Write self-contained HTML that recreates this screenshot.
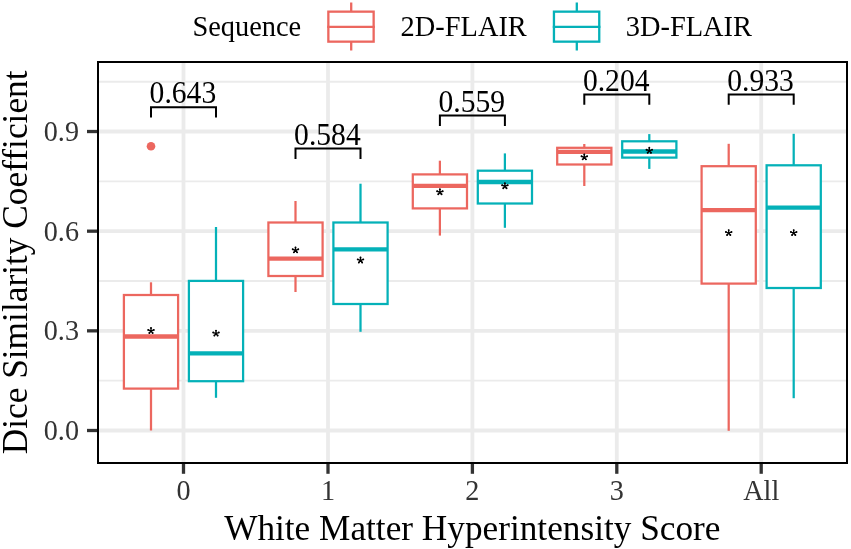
<!DOCTYPE html>
<html><head><meta charset="utf-8"><style>html,body{margin:0;padding:0;background:#fff;width:851px;height:549px;overflow:hidden}text{font-family:"Liberation Serif",serif}</style></head><body>
<svg width="851" height="549" viewBox="0 0 851 549" style="display:block;will-change:transform">
<rect width="851" height="549" fill="#fff"/>
<line x1="97" x2="848" y1="380.67" y2="380.67" stroke="#EBEBEB" stroke-width="1.9"/>
<line x1="97" x2="848" y1="281.01" y2="281.01" stroke="#EBEBEB" stroke-width="1.9"/>
<line x1="97" x2="848" y1="181.35" y2="181.35" stroke="#EBEBEB" stroke-width="1.9"/>
<line x1="97" x2="848" y1="81.69" y2="81.69" stroke="#EBEBEB" stroke-width="1.9"/>
<line x1="97" x2="848" y1="430.50" y2="430.50" stroke="#EBEBEB" stroke-width="3.8"/>
<line x1="97" x2="848" y1="330.84" y2="330.84" stroke="#EBEBEB" stroke-width="3.8"/>
<line x1="97" x2="848" y1="231.18" y2="231.18" stroke="#EBEBEB" stroke-width="3.8"/>
<line x1="97" x2="848" y1="131.52" y2="131.52" stroke="#EBEBEB" stroke-width="3.8"/>
<line x1="183.5" x2="183.5" y1="61" y2="464" stroke="#EBEBEB" stroke-width="3.8"/>
<line x1="328.0" x2="328.0" y1="61" y2="464" stroke="#EBEBEB" stroke-width="3.8"/>
<line x1="472.4" x2="472.4" y1="61" y2="464" stroke="#EBEBEB" stroke-width="3.8"/>
<line x1="616.8" x2="616.8" y1="61" y2="464" stroke="#EBEBEB" stroke-width="3.8"/>
<line x1="761.2" x2="761.2" y1="61" y2="464" stroke="#EBEBEB" stroke-width="3.8"/>
<line x1="151.00" x2="151.00" y1="282.3" y2="295" stroke="#EC675F" stroke-width="2.25"/>
<line x1="151.00" x2="151.00" y1="388.6" y2="430.5" stroke="#EC675F" stroke-width="2.25"/>
<rect x="123.90" y="295" width="54.20" height="93.60" fill="#fff" stroke="#EC675F" stroke-width="2.25"/>
<line x1="123.90" x2="178.10" y1="336.5" y2="336.5" stroke="#EC675F" stroke-width="4.3"/>
<g fill="#000"><path d="M151.00 331.00L151.00 328.00M151.00 331.00L153.78 329.88M151.00 331.00L152.64 332.95M151.00 331.00L149.36 332.95M151.00 331.00L148.22 329.88" stroke="#000" stroke-width="1.3" stroke-linecap="round" fill="none"/><circle cx="151.00" cy="328.00" r="0.95"/><circle cx="153.78" cy="329.88" r="0.95"/><circle cx="152.64" cy="332.95" r="0.95"/><circle cx="149.36" cy="332.95" r="0.95"/><circle cx="148.22" cy="329.88" r="0.95"/><circle cx="151.00" cy="331.00" r="1.1"/></g>
<line x1="216.00" x2="216.00" y1="227" y2="280.9" stroke="#04B1B8" stroke-width="2.25"/>
<line x1="216.00" x2="216.00" y1="381.2" y2="397.8" stroke="#04B1B8" stroke-width="2.25"/>
<rect x="188.90" y="280.9" width="54.20" height="100.30" fill="#fff" stroke="#04B1B8" stroke-width="2.25"/>
<line x1="188.90" x2="243.10" y1="353.3" y2="353.3" stroke="#04B1B8" stroke-width="4.3"/>
<g fill="#000"><path d="M216.00 333.60L216.00 330.60M216.00 333.60L218.78 332.48M216.00 333.60L217.64 335.55M216.00 333.60L214.36 335.55M216.00 333.60L213.22 332.48" stroke="#000" stroke-width="1.3" stroke-linecap="round" fill="none"/><circle cx="216.00" cy="330.60" r="0.95"/><circle cx="218.78" cy="332.48" r="0.95"/><circle cx="217.64" cy="335.55" r="0.95"/><circle cx="214.36" cy="335.55" r="0.95"/><circle cx="213.22" cy="332.48" r="0.95"/><circle cx="216.00" cy="333.60" r="1.1"/></g>
<line x1="295.50" x2="295.50" y1="201" y2="222.5" stroke="#EC675F" stroke-width="2.25"/>
<line x1="295.50" x2="295.50" y1="276" y2="292" stroke="#EC675F" stroke-width="2.25"/>
<rect x="268.40" y="222.5" width="54.20" height="53.50" fill="#fff" stroke="#EC675F" stroke-width="2.25"/>
<line x1="268.40" x2="322.60" y1="258.7" y2="258.7" stroke="#EC675F" stroke-width="4.3"/>
<g fill="#000"><path d="M295.50 250.40L295.50 247.40M295.50 250.40L298.28 249.28M295.50 250.40L297.14 252.35M295.50 250.40L293.86 252.35M295.50 250.40L292.72 249.28" stroke="#000" stroke-width="1.3" stroke-linecap="round" fill="none"/><circle cx="295.50" cy="247.40" r="0.95"/><circle cx="298.28" cy="249.28" r="0.95"/><circle cx="297.14" cy="252.35" r="0.95"/><circle cx="293.86" cy="252.35" r="0.95"/><circle cx="292.72" cy="249.28" r="0.95"/><circle cx="295.50" cy="250.40" r="1.1"/></g>
<line x1="360.50" x2="360.50" y1="183.7" y2="222.5" stroke="#04B1B8" stroke-width="2.25"/>
<line x1="360.50" x2="360.50" y1="304" y2="331.8" stroke="#04B1B8" stroke-width="2.25"/>
<rect x="333.40" y="222.5" width="54.20" height="81.50" fill="#fff" stroke="#04B1B8" stroke-width="2.25"/>
<line x1="333.40" x2="387.60" y1="249.4" y2="249.4" stroke="#04B1B8" stroke-width="4.3"/>
<g fill="#000"><path d="M360.50 260.50L360.50 257.50M360.50 260.50L363.28 259.38M360.50 260.50L362.14 262.45M360.50 260.50L358.86 262.45M360.50 260.50L357.72 259.38" stroke="#000" stroke-width="1.3" stroke-linecap="round" fill="none"/><circle cx="360.50" cy="257.50" r="0.95"/><circle cx="363.28" cy="259.38" r="0.95"/><circle cx="362.14" cy="262.45" r="0.95"/><circle cx="358.86" cy="262.45" r="0.95"/><circle cx="357.72" cy="259.38" r="0.95"/><circle cx="360.50" cy="260.50" r="1.1"/></g>
<line x1="439.90" x2="439.90" y1="160.7" y2="174.4" stroke="#EC675F" stroke-width="2.25"/>
<line x1="439.90" x2="439.90" y1="208.4" y2="235.6" stroke="#EC675F" stroke-width="2.25"/>
<rect x="412.80" y="174.4" width="54.20" height="34.00" fill="#fff" stroke="#EC675F" stroke-width="2.25"/>
<line x1="412.80" x2="467.00" y1="185.9" y2="185.9" stroke="#EC675F" stroke-width="4.3"/>
<g fill="#000"><path d="M439.90 192.30L439.90 189.30M439.90 192.30L442.68 191.18M439.90 192.30L441.54 194.25M439.90 192.30L438.26 194.25M439.90 192.30L437.12 191.18" stroke="#000" stroke-width="1.3" stroke-linecap="round" fill="none"/><circle cx="439.90" cy="189.30" r="0.95"/><circle cx="442.68" cy="191.18" r="0.95"/><circle cx="441.54" cy="194.25" r="0.95"/><circle cx="438.26" cy="194.25" r="0.95"/><circle cx="437.12" cy="191.18" r="0.95"/><circle cx="439.90" cy="192.30" r="1.1"/></g>
<line x1="504.90" x2="504.90" y1="153.4" y2="170.7" stroke="#04B1B8" stroke-width="2.25"/>
<line x1="504.90" x2="504.90" y1="203.5" y2="227.8" stroke="#04B1B8" stroke-width="2.25"/>
<rect x="477.80" y="170.7" width="54.20" height="32.80" fill="#fff" stroke="#04B1B8" stroke-width="2.25"/>
<line x1="477.80" x2="532.00" y1="182.0" y2="182.0" stroke="#04B1B8" stroke-width="4.3"/>
<g fill="#000"><path d="M504.90 186.30L504.90 183.30M504.90 186.30L507.68 185.18M504.90 186.30L506.54 188.25M504.90 186.30L503.26 188.25M504.90 186.30L502.12 185.18" stroke="#000" stroke-width="1.3" stroke-linecap="round" fill="none"/><circle cx="504.90" cy="183.30" r="0.95"/><circle cx="507.68" cy="185.18" r="0.95"/><circle cx="506.54" cy="188.25" r="0.95"/><circle cx="503.26" cy="188.25" r="0.95"/><circle cx="502.12" cy="185.18" r="0.95"/><circle cx="504.90" cy="186.30" r="1.1"/></g>
<line x1="584.30" x2="584.30" y1="144" y2="147.8" stroke="#EC675F" stroke-width="2.25"/>
<line x1="584.30" x2="584.30" y1="164.5" y2="186" stroke="#EC675F" stroke-width="2.25"/>
<rect x="557.20" y="147.8" width="54.20" height="16.70" fill="#fff" stroke="#EC675F" stroke-width="2.25"/>
<line x1="557.20" x2="611.40" y1="151.9" y2="151.9" stroke="#EC675F" stroke-width="4.3"/>
<g fill="#000"><path d="M584.30 157.40L584.30 154.40M584.30 157.40L587.08 156.28M584.30 157.40L585.94 159.35M584.30 157.40L582.66 159.35M584.30 157.40L581.52 156.28" stroke="#000" stroke-width="1.3" stroke-linecap="round" fill="none"/><circle cx="584.30" cy="154.40" r="0.95"/><circle cx="587.08" cy="156.28" r="0.95"/><circle cx="585.94" cy="159.35" r="0.95"/><circle cx="582.66" cy="159.35" r="0.95"/><circle cx="581.52" cy="156.28" r="0.95"/><circle cx="584.30" cy="157.40" r="1.1"/></g>
<line x1="649.30" x2="649.30" y1="134.1" y2="141.3" stroke="#04B1B8" stroke-width="2.25"/>
<line x1="649.30" x2="649.30" y1="157.6" y2="168.9" stroke="#04B1B8" stroke-width="2.25"/>
<rect x="622.20" y="141.3" width="54.20" height="16.30" fill="#fff" stroke="#04B1B8" stroke-width="2.25"/>
<line x1="622.20" x2="676.40" y1="151.5" y2="151.5" stroke="#04B1B8" stroke-width="4.3"/>
<g fill="#000"><path d="M649.30 150.80L649.30 147.80M649.30 150.80L652.08 149.68M649.30 150.80L650.94 152.75M649.30 150.80L647.66 152.75M649.30 150.80L646.52 149.68" stroke="#000" stroke-width="1.3" stroke-linecap="round" fill="none"/><circle cx="649.30" cy="147.80" r="0.95"/><circle cx="652.08" cy="149.68" r="0.95"/><circle cx="650.94" cy="152.75" r="0.95"/><circle cx="647.66" cy="152.75" r="0.95"/><circle cx="646.52" cy="149.68" r="0.95"/><circle cx="649.30" cy="150.80" r="1.1"/></g>
<line x1="728.70" x2="728.70" y1="143.8" y2="166.2" stroke="#EC675F" stroke-width="2.25"/>
<line x1="728.70" x2="728.70" y1="283.6" y2="430.8" stroke="#EC675F" stroke-width="2.25"/>
<rect x="701.60" y="166.2" width="54.20" height="117.40" fill="#fff" stroke="#EC675F" stroke-width="2.25"/>
<line x1="701.60" x2="755.80" y1="210.2" y2="210.2" stroke="#EC675F" stroke-width="4.3"/>
<g fill="#000"><path d="M728.70 233.10L728.70 230.10M728.70 233.10L731.48 231.98M728.70 233.10L730.34 235.05M728.70 233.10L727.06 235.05M728.70 233.10L725.92 231.98" stroke="#000" stroke-width="1.3" stroke-linecap="round" fill="none"/><circle cx="728.70" cy="230.10" r="0.95"/><circle cx="731.48" cy="231.98" r="0.95"/><circle cx="730.34" cy="235.05" r="0.95"/><circle cx="727.06" cy="235.05" r="0.95"/><circle cx="725.92" cy="231.98" r="0.95"/><circle cx="728.70" cy="233.10" r="1.1"/></g>
<line x1="793.70" x2="793.70" y1="133.8" y2="165.3" stroke="#04B1B8" stroke-width="2.25"/>
<line x1="793.70" x2="793.70" y1="288" y2="398.2" stroke="#04B1B8" stroke-width="2.25"/>
<rect x="766.60" y="165.3" width="54.20" height="122.70" fill="#fff" stroke="#04B1B8" stroke-width="2.25"/>
<line x1="766.60" x2="820.80" y1="207.7" y2="207.7" stroke="#04B1B8" stroke-width="4.3"/>
<g fill="#000"><path d="M793.70 233.10L793.70 230.10M793.70 233.10L796.48 231.98M793.70 233.10L795.34 235.05M793.70 233.10L792.06 235.05M793.70 233.10L790.92 231.98" stroke="#000" stroke-width="1.3" stroke-linecap="round" fill="none"/><circle cx="793.70" cy="230.10" r="0.95"/><circle cx="796.48" cy="231.98" r="0.95"/><circle cx="795.34" cy="235.05" r="0.95"/><circle cx="792.06" cy="235.05" r="0.95"/><circle cx="790.92" cy="231.98" r="0.95"/><circle cx="793.70" cy="233.10" r="1.1"/></g>
<circle cx="151" cy="146.2" r="4.3" fill="#EC675F"/>
<path d="M151.00 117.5V107.2H216.00V117.5" fill="none" stroke="#000" stroke-width="2"/>
<text transform="translate(182.90,103.4) scale(1,1.072)" text-anchor="middle" font-family="Liberation Serif" font-size="29.6">0.643</text>
<path d="M295.50 159V148.5H360.50V159" fill="none" stroke="#000" stroke-width="2"/>
<text transform="translate(327.40,144.7) scale(1,1.072)" text-anchor="middle" font-family="Liberation Serif" font-size="29.6">0.584</text>
<path d="M439.90 126V115.5H504.90V126" fill="none" stroke="#000" stroke-width="2"/>
<text transform="translate(471.80,112.2) scale(1,1.072)" text-anchor="middle" font-family="Liberation Serif" font-size="29.6">0.559</text>
<path d="M584.30 104.8V94.4H649.30V104.8" fill="none" stroke="#000" stroke-width="2"/>
<text transform="translate(616.20,91.0) scale(1,1.072)" text-anchor="middle" font-family="Liberation Serif" font-size="29.6">0.204</text>
<path d="M728.70 104.8V94.4H793.70V104.8" fill="none" stroke="#000" stroke-width="2"/>
<text transform="translate(760.60,91.0) scale(1,1.072)" text-anchor="middle" font-family="Liberation Serif" font-size="29.6">0.933</text>
<rect x="98" y="62" width="749" height="401" fill="none" stroke="#000" stroke-width="2"/>
<line x1="87" x2="97" y1="430.50" y2="430.50" stroke="#333" stroke-width="3.3"/>
<text transform="translate(79,440.00) scale(1,1.055)" text-anchor="end" font-family="Liberation Serif" font-size="28.2" fill="#333">0.0</text>
<line x1="87" x2="97" y1="330.84" y2="330.84" stroke="#333" stroke-width="3.3"/>
<text transform="translate(79,340.34) scale(1,1.055)" text-anchor="end" font-family="Liberation Serif" font-size="28.2" fill="#333">0.3</text>
<line x1="87" x2="97" y1="231.18" y2="231.18" stroke="#333" stroke-width="3.3"/>
<text transform="translate(79,240.68) scale(1,1.055)" text-anchor="end" font-family="Liberation Serif" font-size="28.2" fill="#333">0.6</text>
<line x1="87" x2="97" y1="131.52" y2="131.52" stroke="#333" stroke-width="3.3"/>
<text transform="translate(79,141.02) scale(1,1.055)" text-anchor="end" font-family="Liberation Serif" font-size="28.2" fill="#333">0.9</text>
<line x1="183.5" x2="183.5" y1="464" y2="473.8" stroke="#333" stroke-width="3.3"/>
<text transform="translate(183.5,500) scale(1,1.05)" text-anchor="middle" font-family="Liberation Serif" font-size="28.2" fill="#333">0</text>
<line x1="328.0" x2="328.0" y1="464" y2="473.8" stroke="#333" stroke-width="3.3"/>
<text transform="translate(328.0,500) scale(1,1.05)" text-anchor="middle" font-family="Liberation Serif" font-size="28.2" fill="#333">1</text>
<line x1="472.4" x2="472.4" y1="464" y2="473.8" stroke="#333" stroke-width="3.3"/>
<text transform="translate(472.4,500) scale(1,1.05)" text-anchor="middle" font-family="Liberation Serif" font-size="28.2" fill="#333">2</text>
<line x1="616.8" x2="616.8" y1="464" y2="473.8" stroke="#333" stroke-width="3.3"/>
<text transform="translate(616.8,500) scale(1,1.05)" text-anchor="middle" font-family="Liberation Serif" font-size="28.2" fill="#333">3</text>
<line x1="761.2" x2="761.2" y1="464" y2="473.8" stroke="#333" stroke-width="3.3"/>
<text transform="translate(761.2,500) scale(1,1.05)" text-anchor="middle" font-family="Liberation Serif" font-size="28.2" fill="#333">All</text>
<text x="472.3" y="539.5" text-anchor="middle" font-family="Liberation Serif" font-size="35.25">White Matter Hyperintensity Score</text>
<text transform="translate(26.6,262.4) rotate(-90)" x="0" y="0" text-anchor="middle" font-family="Liberation Serif" font-size="35.35">Dice Similarity Coefficient</text>
<text x="192.4" y="35.9" font-family="Liberation Serif" font-size="28.4">Sequence</text>
<line x1="351.2" x2="351.2" y1="2.5" y2="50.5" stroke="#EC675F" stroke-width="2.3"/>
<rect x="328.34999999999997" y="11.65" width="45.300000000000004" height="29.999999999999996" fill="#fff" stroke="#EC675F" stroke-width="2.3"/>
<line x1="327.2" x2="374.8" y1="26.8" y2="26.8" stroke="#EC675F" stroke-width="2.3"/>
<text x="400.6" y="35.9" font-family="Liberation Serif" font-size="28.4">2D-FLAIR</text>
<line x1="576.8" x2="576.8" y1="2.5" y2="50.5" stroke="#04B1B8" stroke-width="2.3"/>
<rect x="553.9499999999999" y="11.65" width="45.300000000000004" height="29.999999999999996" fill="#fff" stroke="#04B1B8" stroke-width="2.3"/>
<line x1="552.8" x2="600.4" y1="26.8" y2="26.8" stroke="#04B1B8" stroke-width="2.3"/>
<text x="625.8" y="35.9" font-family="Liberation Serif" font-size="28.4">3D-FLAIR</text>
</svg>
</body></html>
